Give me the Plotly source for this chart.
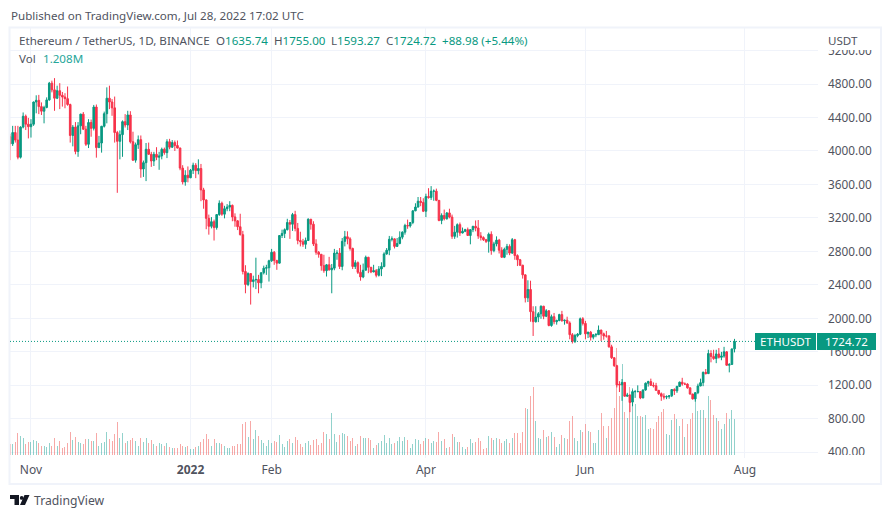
import pandas as pd
import plotly.graph_objs as go

UP = "#089981"
DOWN = "#f7324a"
GRID = "#f0f3fa"
TEXT = "#50535e"
FONT = "Noto Sans"

dates = pd.date_range("2021-10-24", periods=278, freq="D")

open_ = [
    4170, 4085, 4220, 4130, 3925, 4285, 4415, 4320,
    4290, 4320, 4585, 4605, 4530, 4475, 4520, 4610, 4810, 4730, 4630, 4720, 4665, 4645, 4625, 4555, 4185, 4285, 3995, 4300, 4440, 4260, 4080, 4340, 4270, 4525, 4040, 4095, 4295, 4445,
    4630, 4585, 4515, 4220, 4115, 4195, 4350, 4310, 4430, 4110, 3890, 4075, 4135, 3785, 3860, 4020, 3960, 3880, 3960, 3925, 3940, 4020, 3980, 4110, 4045, 4100, 4065, 4035, 3795, 3630, 3710,
    3680, 3770, 3830, 3765, 3790, 3535, 3415, 3195, 3100, 3155, 3085, 3240, 3375, 3245, 3310, 3330, 3350, 3212, 3165, 3095, 3000, 2560, 2405, 2535, 2440, 2460, 2465, 2425, 2545, 2600, 2605,
    2688, 2790, 2690, 2660, 2990, 3015, 3060, 3145, 3125, 3240, 3075, 2930, 2915, 2885, 2930, 3185, 3125, 2890, 2790, 2765, 2630, 2570, 2640, 2580, 2600, 2780, 2780, 2620,
    2920, 2975, 2950, 2835, 2620, 2665, 2550, 2495, 2575, 2730, 2610, 2555, 2570, 2515, 2590, 2620, 2770, 2815, 2945, 2950, 2860, 2895, 2970, 3030, 3110, 3105, 3145, 3285, 3330, 3400, 3385,
    3280, 3455, 3445, 3520, 3520, 3410, 3170, 3230, 3190, 3260, 3210, 2980, 3030, 3120, 3020, 3040, 3060, 2990, 3060, 3100, 3080, 2985, 2965, 2940, 2920, 3005, 2810, 2890, 2935, 2815,
    2730, 2825, 2860, 2780, 2940, 2750, 2700, 2635, 2520, 2245, 2345, 2080, 1960, 2015, 2055, 2145, 2025, 2090, 1915, 2020, 1960, 1975, 2045, 1972, 1978, 1945, 1805, 1725, 1795, 1810, 1995,
    1940, 1815, 1835, 1775, 1805, 1805, 1860, 1815, 1790, 1790, 1660, 1530, 1435, 1212, 1206, 1235, 1070, 1085, 1000, 1125, 1125, 1125, 1050, 1145, 1225, 1245, 1200, 1195, 1140, 1100,
    1070, 1060, 1065, 1075, 1150, 1135, 1187, 1238, 1215, 1215, 1170, 1096, 1038, 1113, 1192, 1232, 1355, 1340, 1580, 1545, 1520, 1575, 1535, 1550, 1600, 1440, 1450, 1635.74,
]
high = [
    4205, 4300, 4300, 4300, 4295, 4460, 4435, 4395,
    4380, 4590, 4665, 4670, 4580, 4540, 4640, 4825, 4840, 4870, 4780, 4810, 4705, 4690, 4770, 4565, 4310, 4345, 4345, 4445, 4465, 4300, 4380, 4375, 4550, 4555, 4180, 4300, 4470, 4760,
    4780, 4620, 4650, 4240, 4245, 4365, 4440, 4480, 4475, 4230, 4100, 4185, 4185, 3885, 4095, 4100, 3990, 3990, 4045, 3990, 4040, 4040, 4140, 4145, 4130, 4125, 4125, 4040, 3830, 3770, 3815,
    3785, 3860, 3855, 3900, 3845, 3560, 3420, 3240, 3210, 3180, 3245, 3410, 3395, 3345, 3365, 3400, 3360, 3255, 3175, 3250, 3045, 2635, 2550, 2540, 2510, 2725, 2520, 2550, 2630, 2640, 2700,
    2830, 2805, 2700, 2990, 3060, 3075, 3190, 3175, 3260, 3285, 3140, 3035, 2950, 2965, 3195, 3185, 3160, 2945, 2805, 2770, 2760, 2650, 2735, 2650, 2830, 2815, 2840, 2960,
    3045, 3040, 2970, 2845, 2695, 2680, 2640, 2655, 2750, 2735, 2615, 2640, 2590, 2625, 2670, 2790, 2840, 2985, 2980, 2955, 2960, 3040, 3040, 3130, 3180, 3150, 3290, 3375, 3450, 3450, 3435,
    3490, 3555, 3580, 3540, 3550, 3410, 3255, 3300, 3270, 3310, 3240, 3105, 3135, 3145, 3085, 3070, 3085, 3065, 3105, 3170, 3175, 3030, 2980, 2950, 3025, 3040, 2915, 2980, 2950, 2850,
    2845, 2890, 2885, 2960, 2950, 2765, 2710, 2640, 2525, 2455, 2450, 2145, 2145, 2075, 2155, 2150, 2110, 2100, 2045, 2065, 1985, 2055, 2090, 1985, 2020, 1965, 1825, 1815, 1825, 2010, 2015,
    1970, 1840, 1850, 1810, 1825, 1915, 1865, 1830, 1850, 1800, 1685, 1535, 1445, 1250, 1275, 1240, 1110, 1090, 1150, 1145, 1200, 1130, 1150, 1235, 1255, 1280, 1235, 1230, 1145, 1115,
    1105, 1080, 1080, 1155, 1165, 1195, 1245, 1290, 1235, 1225, 1175, 1100, 1115, 1220, 1280, 1365, 1395, 1625, 1620, 1625, 1625, 1645, 1600, 1660, 1610, 1465, 1640, 1755,
]
low = [
    3890, 4060, 4100, 3900, 3910, 4270, 4250, 4150,
    4160, 4300, 4450, 4440, 4430, 4330, 4510, 4600, 4700, 4480, 4620, 4500, 4530, 4510, 4540, 4100, 4055, 3960, 3930, 4200, 4250, 4060, 4035, 4170, 4245, 3920, 4035, 3980, 4280, 4330,
    4500, 4420, 4100, 3500, 3900, 3930, 4280, 4250, 4090, 3880, 3860, 4025, 3680, 3690, 3640, 3955, 3810, 3820, 3890, 3775, 3900, 3955, 3915, 4020, 4035, 4000, 4030, 3770, 3600, 3585, 3625,
    3675, 3725, 3675, 3720, 3400, 3310, 3065, 3000, 3075, 2930, 3060, 3225, 3225, 3195, 3280, 3280, 3160, 3095, 3055, 2990, 2525, 2300, 2385, 2165, 2370, 2350, 2300, 2360, 2525, 2520, 2440,
    2675, 2640, 2580, 2655, 2960, 2960, 3050, 2950, 3045, 3040, 2885, 2860, 2855, 2830, 2925, 3060, 2865, 2760, 2725, 2570, 2545, 2500, 2570, 2300, 2575, 2700, 2590, 2575,
    2860, 2885, 2810, 2590, 2590, 2530, 2450, 2480, 2575, 2540, 2540, 2550, 2490, 2500, 2505, 2610, 2760, 2755, 2920, 2835, 2855, 2885, 2945, 3000, 3070, 3085, 3125, 3280, 3325, 3340, 3270,
    3210, 3430, 3415, 3405, 3400, 3160, 3125, 3170, 3180, 3195, 2950, 2950, 2965, 2985, 3015, 3030, 2990, 2885, 3030, 3040, 2950, 2930, 2925, 2900, 2785, 2760, 2790, 2860, 2775, 2725,
    2720, 2760, 2755, 2770, 2700, 2625, 2625, 2475, 2190, 2195, 1960, 1790, 1950, 1955, 1995, 1990, 2015, 1905, 1900, 1930, 1925, 1965, 1960, 1925, 1935, 1750, 1700, 1705, 1775, 1800, 1915,
    1750, 1765, 1735, 1750, 1775, 1805, 1730, 1745, 1770, 1650, 1515, 1420, 1175, 1120, 1015, 1065, 1065, 880, 950, 1050, 1120, 1035, 1045, 1135, 1185, 1195, 1175, 1135, 1085, 1015,
    1030, 1035, 1040, 1060, 1085, 1110, 1185, 1195, 1205, 1160, 1090, 1030, 1005, 1095, 1190, 1190, 1330, 1335, 1475, 1505, 1465, 1520, 1500, 1530, 1435, 1355, 1445, 1593.27,
]
close = [
    4085, 4220, 4130, 3925, 4285, 4415, 4320, 4290,
    4320, 4585, 4605, 4530, 4475, 4520, 4610, 4810, 4730, 4630, 4720, 4665, 4645, 4625, 4555, 4185, 4285, 3995, 4300, 4440, 4260, 4080, 4340, 4270, 4525, 4040, 4095, 4295, 4445, 4630,
    4585, 4515, 4220, 4115, 4195, 4350, 4310, 4430, 4110, 3890, 4075, 4135, 3785, 3860, 4020, 3960, 3880, 3960, 3925, 3940, 4020, 3980, 4110, 4045, 4100, 4065, 4035, 3795, 3630, 3710, 3680,
    3770, 3830, 3765, 3790, 3535, 3415, 3195, 3100, 3155, 3085, 3240, 3375, 3245, 3310, 3330, 3350, 3212, 3165, 3095, 3000, 2560, 2405, 2535, 2440, 2460, 2465, 2425, 2545, 2600, 2605, 2688,
    2790, 2690, 2660, 2990, 3015, 3060, 3145, 3125, 3240, 3075, 2930, 2915, 2885, 2930, 3185, 3125, 2890, 2790, 2765, 2630, 2570, 2640, 2580, 2600, 2780, 2780, 2620, 2920,
    2975, 2950, 2835, 2620, 2665, 2550, 2495, 2575, 2730, 2610, 2555, 2570, 2515, 2590, 2620, 2770, 2815, 2945, 2950, 2860, 2895, 2970, 3030, 3110, 3105, 3145, 3285, 3330, 3400, 3385, 3280,
    3455, 3445, 3520, 3520, 3410, 3170, 3230, 3190, 3260, 3210, 2980, 3030, 3120, 3020, 3040, 3060, 2990, 3060, 3100, 3080, 2985, 2965, 2940, 2920, 3005, 2810, 2890, 2935, 2815, 2730,
    2825, 2860, 2780, 2940, 2750, 2700, 2635, 2520, 2245, 2345, 2080, 1960, 2015, 2055, 2145, 2025, 2090, 1915, 2020, 1960, 1975, 2045, 1972, 1978, 1945, 1805, 1725, 1795, 1810, 1995, 1940,
    1815, 1835, 1775, 1805, 1805, 1860, 1815, 1790, 1790, 1660, 1530, 1435, 1205, 1206, 1235, 1070, 1085, 995, 1125, 1125, 1125, 1050, 1145, 1225, 1245, 1200, 1195, 1140, 1100, 1070,
    1060, 1065, 1075, 1150, 1135, 1187, 1238, 1215, 1215, 1170, 1096, 1038, 1113, 1192, 1232, 1355, 1340, 1580, 1545, 1520, 1575, 1535, 1550, 1600, 1440, 1450, 1635, 1724.72,
]
# Volume in millions
volume = [
    .36, .36, .43, .73, .63, .56, .36, .43,
    .43, .49, .46, .39, .32, .32, .26, .39, .32, .56, .32, .46, .22, .26, .39, .76, .49, .59, .43, .39, .36, .53, .53, .46, .46, .73, .29, .39, .43, .76,
    .53, .46, .69, 1.10, .56, .73, .39, .46, .49, .56, .46, .32, .56, .43, .56, .39, .49, .36, .32, .39, .36, .32, .39, .26, .22, .22, .22, .36, .32, .26, .29,
    .19, .19, .26, .29, .43, .53, .69, .53, .29, .53, .39, .39, .36, .29, .22, .22, .29, .32, .36, .36, 1.03, 1.10, .59, 1.13, .53, .83, .63, .49, .39, .29, .49,
    .39, .46, .43, .66, .36, .26, .46, .53, .39, .59, .49, .37, .27, .40, .47, .34, .50, .54, .34, .40, .77, .71, .54, 1.41, .71, .44, .67, .74,
    .71, .64, .47, .57, .30, .37, .64, .57, .57, .57, .50, .24, .34, .40, .47, .67, .40, .57, .37, .40, .47, .60, .47, .60, .50, .24, .37, .54, .50, .37, .47,
    .57, .54, .40, .47, .44, .77, .47, .54, .24, .27, .71, .60, .44, .44, .27, .20, .27, .54, .40, .44, .57, .47, .20, .24, .64, .57, .50, .56, .53, .39,
    .46, .53, .39, .56, .73, .73, .39, .76, 1.57, 1.53, 2.00, 2.27, 1.13, .56, .53, .83, .59, .63, .76, .59, .26, .36, .66, .56, .53, 1.16, 1.30, .56, .46, .83, .76,
    1.03, .80, .76, .39, .39, .83, 1.40, .96, .56, .96, 1.23, 1.57, 3.60, 2.00, 3.07, 1.43, 1.23, 2.28, 2.25, 1.70, 1.30, 1.30, 1.27, 1.33, .87, .90, .86, 1.11, 1.30, 1.44,
    1.56, .71, .66, 1.17, 1.39, 1.20, .99, 1.20, .60, 1.03, 1.22, 1.42, 1.89, 1.48, 1.52, 1.50, 1.23, 2.00, 1.84, 1.33, 1.25, 1.16, .86, 1.03, 1.40, 1.20, 1.50, 1.208,
]
assert len(open_) == len(high) == len(low) == len(close) == len(volume) == 278

price_ticks = [400, 800, 1200, 1600, 2000, 2400, 2800, 3200, 3600, 4000, 4400, 4800, 5200]
date_ticks = ["2021-11-01", "2022-01-01", "2022-02-01", "2022-04-01", "2022-06-01", "2022-08-01"]
date_labels = ["Nov", "<b>2022</b>", "Feb", "Apr", "Jun", "Aug"]
last_price = 1724.72

# The chart pane in window pixels
L, R, T, B = 10, 818, 28, 458


def px(x):
    return (x - L) / (R - L)


def py(y):
    return (B - y) / (B - T)


candles = go.Candlestick(
    x=dates, open=open_, high=high, low=low, close=close, yaxis="y2",
    increasing=dict(line=dict(color=UP, width=1), fillcolor=UP),
    decreasing=dict(line=dict(color=DOWN, width=1), fillcolor=DOWN),
    whiskerwidth=0,
)
bars = go.Bar(
    x=dates, y=volume, width=33000000,
    marker=dict(
        color=["rgba(38,166,154,0.5)" if c >= o else "rgba(239,83,80,0.5)" for o, c in zip(open_, close)],
        line=dict(width=0),
    ),
)


def rect(x0, y0, x1, y1, fill="white", line_color="rgba(0,0,0,0)", width=0):
    return dict(type="rect", xref="paper", yref="paper", x0=px(x0), x1=px(x1), y0=py(y0), y1=py(y1),
                fillcolor=fill, line=dict(color=line_color, width=width), layer="above")


def label(x, y, text, size=11.6, color=TEXT, xanchor="left"):
    return dict(xref="paper", yref="paper", x=px(x), y=py(y), text=text, showarrow=False, xanchor=xanchor,
                yanchor="middle", font=dict(family=FONT, size=size, color=color), borderpad=0)


def val(text):
    return f'<span style="color:{UP}">{text}</span>'


layout = go.Layout(
    width=891, height=518, autosize=False,
    margin=dict(l=L, r=891 - R, t=T, b=518 - B, pad=0),
    paper_bgcolor="white", plot_bgcolor="white",
    showlegend=False, bargap=0, boxgap=0.12,
    font=dict(family=FONT, size=12, color=TEXT),
    xaxis=dict(
        type="date", range=["2021-10-23 23:30", "2022-08-28 22:00"],
        rangeslider=dict(visible=False),
        tickvals=date_ticks, ticktext=date_labels, ticks="", ticklabelstandoff=3,
        showgrid=True, gridcolor=GRID, gridwidth=1, zeroline=False, showline=False,
        tickfont=dict(family=FONT, size=12, color=TEXT),
    ),
    yaxis=dict(range=[-0.10, 14.35], visible=False, fixedrange=True),
    yaxis2=dict(
        overlaying="y", side="right", range=[332, 5469],
        tickvals=price_ticks, tickformat=".2f", ticks="", ticklabelstandoff=9,
        showgrid=True, gridcolor=GRID, gridwidth=1, zeroline=False, showline=False,
        tickfont=dict(family=FONT, size=11.8, color=TEXT),
    ),
    shapes=[
        # frame around chart
        rect(9.5, 27.5, 881, 484, fill="rgba(0,0,0,0)", line_color=GRID, width=2),
        # clips the axis labels at both ends of the price scale
        rect(820, 29, 879, 50),
        rect(820, 455, 879, 462),
        # last price line
        dict(type="line", xref="paper", yref="y2", x0=0, x1=px(755), y0=last_price, y1=last_price,
             line=dict(color=UP, width=1, dash="1px,2px"), layer="above"),
        rect(755, 333, 816, 350, fill=UP),
        rect(817, 333, 876, 350, fill=UP),
        # TradingView logo
        dict(type="path", xref="paper", yref="paper", layer="above", fillcolor="#131722", line=dict(width=0),
             path=f"M {px(10)} {py(495)} L {px(19)} {py(495)} L {px(19)} {py(505)} L {px(14.5)} {py(505)} "
                  f"L {px(14.5)} {py(499)} L {px(10)} {py(499)} Z "
                  f"M {px(24.5)} {py(495)} L {px(29.5)} {py(495)} L {px(25)} {py(505)} L {px(20)} {py(505)} Z"),
        dict(type="circle", xref="paper", yref="paper", layer="above", fillcolor="#131722", line=dict(width=0),
             x0=px(19.8), x1=px(23.6), y0=py(496), y1=py(499.8)),
    ],
    annotations=[
        label(10, 15, "Published on TradingView.com, Jul 28, 2022 17:02 UTC"),
        label(18, 41, "Ethereum / TetherUS, 1D, BINANCE"),
        label(215, 41, f"O{val('1635.74')}"),
        label(273, 41, f"H{val('1755.00')}"),
        label(330, 41, f"L{val('1593.27')}"),
        label(385, 41, f"C{val('1724.72')}"),
        label(441, 41, val("+88.98 (+5.44%)")),
        label(18, 59, "Vol"),
        label(42, 59, '<span style="color:#26a69a">1.208M</span>'),
        label(827, 41, "USDT"),
        label(785.5, 341.5, "ETHUSDT", color="white", xanchor="center"),
        label(846.5, 341.5, "1724.72", color="white", xanchor="center"),
        label(33, 500, "TradingView", size=12.2),
    ],
)

fig = go.Figure(data=[bars, candles], layout=layout)
fig.write_html("out.html", config=dict(displayModeBar=False), post_script="document.body.style.margin='0';")
